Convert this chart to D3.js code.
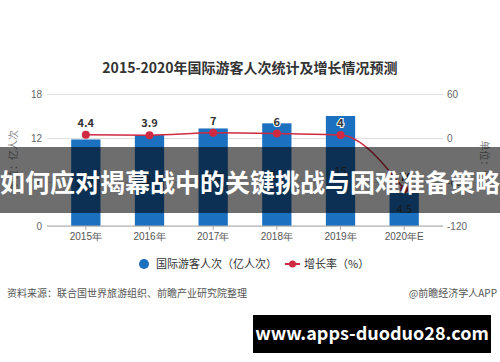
<!DOCTYPE html>
<html>
<head>
<meta charset="utf-8">
<script src="https://cdn.jsdelivr.net/npm/d3@7"></script>
<style>
  html, body { margin: 0; padding: 0; background: #fff; }
  svg { display: block; font-family: "Noto Sans CJK SC", "Noto Sans", sans-serif; }
</style>
</head>
<body>
<div id="chart"></div>
<script>
// data
var years = ["2015年", "2016年", "2017年", "2018年", "2019年", "2020年E"];
var arrivals = [11.8, 12.4, 13.3, 14, 15, 4.5];
var growth = [4.4, 3.9, 7, 6, 4, -70];
var leftTicks = [0, 6, 12, 18];
var rightTicks = [-120, -60, 0, 60];

var width = 500, height = 362;
var plot = { left: 47, right: 443, top: 94, bottom: 226 };

var svg = d3.select("#chart")
  .append("svg")
  .attr("width", width)
  .attr("height", height);

svg.append("rect")
  .attr("width", width)
  .attr("height", height)
  .attr("fill", "#fff");

// title
svg.append("text")
  .attr("x", 250)
  .attr("y", 73)
  .attr("text-anchor", "middle")
  .attr("font-size", "14px")
  .attr("font-weight", "bold")
  .attr("fill", "#333")
  .text("2015-2020年国际游客人次统计及增长情况预测");

var x = d3.scaleBand()
  .domain(years)
  .range([54, 436])
  .paddingInner(0.54)
  .paddingOuter(0.27);

var yL = d3.scaleLinear().domain([0, 18]).range([plot.bottom, plot.top]);
var yR = d3.scaleLinear().domain([-120, 60]).range([plot.bottom, plot.top]);

// left axis + gridlines
var gl = svg.append("g")
  .attr("transform", "translate(" + plot.left + ",0)")
  .call(d3.axisLeft(yL)
    .tickValues(leftTicks)
    .tickSize(-(plot.right - plot.left))
    .tickPadding(5));
gl.select(".domain").remove();
gl.selectAll("line").attr("stroke", "#e0e0e0");
gl.selectAll("text").attr("fill", "#666").attr("font-size", "10px");

// right axis
var gr = svg.append("g")
  .attr("transform", "translate(" + plot.right + ",0)")
  .call(d3.axisRight(yR)
    .tickValues(rightTicks)
    .tickSize(0)
    .tickPadding(4)
    .tickFormat(function (d) { return String(d); }));
gr.select(".domain").remove();
gr.selectAll("text").attr("fill", "#666").attr("font-size", "10px");

// unit labels
svg.append("text")
  .attr("transform", "translate(17,160) rotate(-90)")
  .attr("text-anchor", "middle")
  .attr("font-size", "10px")
  .attr("fill", "#888")
  .text("单位：亿人次");

svg.append("text")
  .attr("transform", "translate(481,160) rotate(90)")
  .attr("text-anchor", "middle")
  .attr("font-size", "10px")
  .attr("fill", "#888")
  .text("单位：%");

// bars
svg.selectAll("rect.bar")
  .data(arrivals)
  .enter()
  .append("rect")
  .attr("class", "bar")
  .attr("x", function (d, i) { return x(years[i]); })
  .attr("y", function (d) { return yL(d); })
  .attr("width", x.bandwidth())
  .attr("height", function (d) { return yL(0) - yL(d); })
  .attr("fill", "#1b70c0");

svg.selectAll("text.barlabel")
  .data(arrivals)
  .enter()
  .append("text")
  .attr("class", "barlabel")
  .attr("x", function (d, i) { return x(years[i]) + x.bandwidth() / 2; })
  .attr("y", function (d) { return (yL(d) + yL(0)) / 2; })
  .attr("dy", "0.35em")
  .attr("text-anchor", "middle")
  .attr("font-size", "11px")
  .attr("fill", "#3a3a3a")
  .text(function (d) { return d; });

// x axis
svg.append("line")
  .attr("x1", plot.left)
  .attr("x2", plot.right)
  .attr("y1", plot.bottom)
  .attr("y2", plot.bottom)
  .attr("stroke", "#aaa");

var gx = svg.append("g")
  .attr("transform", "translate(0," + plot.bottom + ")")
  .call(d3.axisBottom(x).tickSize(4).tickPadding(3));
gx.select(".domain").remove();
gx.selectAll("line").attr("stroke", "#aaa");
gx.selectAll("text").attr("fill", "#555").attr("font-size", "10px");

// growth line
var cx = function (i) { return x(years[i]) + x.bandwidth() / 2; };
var line = d3.line()
  .x(function (d, i) { return cx(i); })
  .y(function (d) { return yR(d); })
  .curve(d3.curveMonotoneX);

svg.append("path")
  .datum(growth)
  .attr("d", line)
  .attr("fill", "none")
  .attr("stroke", "#cf2a42")
  .attr("stroke-width", 1.5);

svg.selectAll("circle.pt")
  .data(growth)
  .enter()
  .append("circle")
  .attr("class", "pt")
  .attr("cx", function (d, i) { return cx(i); })
  .attr("cy", function (d) { return yR(d); })
  .attr("r", 4)
  .attr("fill", "#cf2a42");

svg.selectAll("text.ptlabel")
  .data(growth)
  .enter()
  .append("text")
  .attr("class", "ptlabel")
  .attr("x", function (d, i) { return cx(i); })
  .attr("y", function (d) { return yR(d) - 8; })
  .attr("text-anchor", "middle")
  .attr("font-size", "11px")
  .attr("font-weight", "bold")
  .attr("fill", "#333")
  .attr("stroke", "#fff")
  .attr("stroke-width", 2)
  .attr("paint-order", "stroke")
  .text(function (d) { return d; });

// legend
svg.append("circle")
  .attr("cx", 144)
  .attr("cy", 264)
  .attr("r", 5)
  .attr("fill", "#1b70c0");
svg.append("text")
  .attr("x", 156)
  .attr("y", 268)
  .attr("font-size", "11px")
  .attr("fill", "#333")
  .text("国际游客人次（亿人次）");

svg.append("line")
  .attr("x1", 285)
  .attr("x2", 300)
  .attr("y1", 264)
  .attr("y2", 264)
  .attr("stroke", "#cf2a42")
  .attr("stroke-width", 2);
svg.append("circle")
  .attr("cx", 292.5)
  .attr("cy", 264)
  .attr("r", 3.5)
  .attr("fill", "#cf2a42");
svg.append("text")
  .attr("x", 304)
  .attr("y", 268)
  .attr("font-size", "11px")
  .attr("fill", "#333")
  .text("增长率（%）");

// footer
svg.append("text")
  .attr("x", 7)
  .attr("y", 297)
  .attr("font-size", "10px")
  .attr("fill", "#555")
  .text("资料来源：联合国世界旅游组织、前瞻产业研究院整理");
svg.append("text")
  .attr("x", 497)
  .attr("y", 297)
  .attr("text-anchor", "end")
  .attr("font-size", "10px")
  .attr("fill", "#555")
  .text("@前瞻经济学人APP");

// overlay banner
svg.append("rect")
  .attr("x", 0)
  .attr("y", 147)
  .attr("width", width)
  .attr("height", 66)
  .attr("fill", "rgba(0,0,0,0.57)");
svg.append("text")
  .attr("x", 250)
  .attr("y", 183)
  .attr("dy", "0.35em")
  .attr("text-anchor", "middle")
  .attr("font-size", "25px")
  .attr("font-weight", "bold")
  .attr("fill", "#fff")
  .text("如何应对揭幕战中的关键挑战与困难准备策略");

// url box
svg.append("rect")
  .attr("x", 253)
  .attr("y", 315)
  .attr("width", 238)
  .attr("height", 38)
  .attr("fill", "#000");
svg.append("text")
  .attr("x", 372)
  .attr("y", 334)
  .attr("dy", "0.35em")
  .attr("text-anchor", "middle")
  .attr("font-size", "18px")
  .attr("font-weight", "bold")
  .attr("fill", "#fff")
  .text("www.apps-duoduo28.com");
</script>
</body>
</html>
